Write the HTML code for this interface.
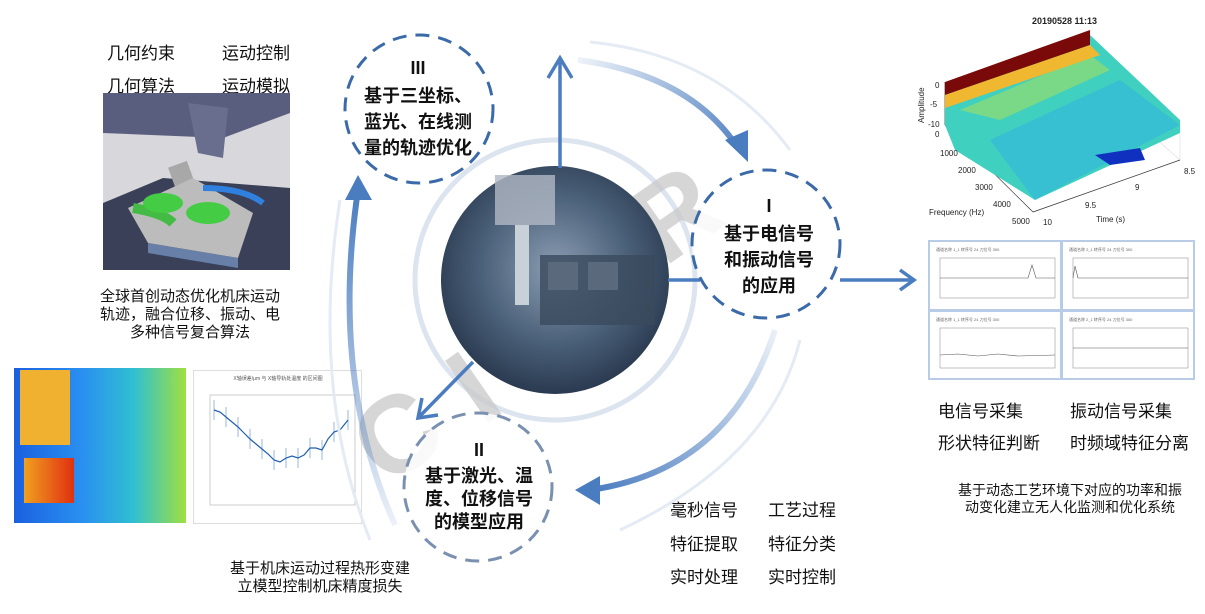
<!DOCTYPE html>
<html><head><meta charset="utf-8">
<style>
html,body{margin:0;padding:0;background:#fff;}
body{width:1205px;height:614px;position:relative;overflow:hidden;font-family:"Liberation Sans","Noto Sans CJK SC",sans-serif;color:#111;}
.t{position:absolute;white-space:nowrap;}
.c{text-align:center;}
</style></head><body>

<div class="t" style="left:107px;top:39px;font-size:17px;">几何约束</div>
<div class="t" style="left:222px;top:39px;font-size:17px;">运动控制</div>
<div class="t" style="left:107px;top:72px;font-size:17px;">几何算法</div>
<div class="t" style="left:222px;top:72px;font-size:17px;">运动模拟</div>
<svg style="position:absolute;left:103px;top:93px" width="187" height="177">
<rect width="187" height="177" fill="#d8d8dc"/>
<polygon points="0,0 187,0 187,20 120,45 0,40" fill="#5a5e7e"/>
<polygon points="0,110 60,85 187,95 187,177 0,177" fill="#3a4058"/>
<polygon points="85,10 125,15 120,65 95,60" fill="#6a6e8e"/>
<rect x="72" y="70" width="20" height="45" fill="#a8a8a8" transform="rotate(-20 82 92)"/>
<polygon points="25,115 90,85 150,120 135,165 45,150" fill="#bcbcbc"/>
<polygon points="45,150 135,165 135,175 45,160" fill="#6880a8"/>
<path d="M30,115 Q60,120 70,130" stroke="#44bb44" stroke-width="10" fill="none"/>
<ellipse cx="60" cy="110" rx="20" ry="10" fill="#44cc44"/>
<ellipse cx="105" cy="120" rx="22" ry="11" fill="#44cc44"/>
<path d="M100,95 Q140,95 160,110" stroke="#3080e0" stroke-width="6" fill="none"/>
</svg>
<div class="t c" style="left:80px;top:288px;width:220px;font-size:15px;line-height:18px;">全球首创动态优化机床运动<br>轨迹，融合位移、振动、电<br>多种信号复合算法</div>

<div style="position:absolute;left:14px;top:368px;width:172px;height:155px;background:linear-gradient(90deg,#1a60e0 0%,#2a90f0 40%,#30c0d0 70%,#a0e040 100%);"></div>
<div style="position:absolute;left:20px;top:370px;width:50px;height:75px;background:#f0b030;"></div>
<div style="position:absolute;left:24px;top:458px;width:50px;height:45px;background:linear-gradient(90deg,#f0a020,#e03010);"></div>
<div style="position:absolute;left:193px;top:370px;width:167px;height:152px;background:#fff;border:1px solid #ddd;"></div>
<svg style="position:absolute;left:193px;top:370px" width="167" height="152">
<rect x="17" y="25" width="145" height="110" fill="none" stroke="#ccc"/>
<g stroke="#9ab8e0" stroke-width="1">
<line x1="21" y1="30" x2="21" y2="50"/><line x1="33" y1="37" x2="33" y2="57"/><line x1="45" y1="47" x2="45" y2="67"/><line x1="57" y1="59" x2="57" y2="79"/><line x1="69" y1="69" x2="69" y2="89"/><line x1="81" y1="80" x2="81" y2="100"/><line x1="93" y1="78" x2="93" y2="98"/><line x1="105" y1="78" x2="105" y2="98"/><line x1="117" y1="68" x2="117" y2="88"/><line x1="129" y1="70" x2="129" y2="90"/><line x1="141" y1="52" x2="141" y2="72"/><line x1="155" y1="40" x2="155" y2="60"/></g>
<polyline points="21,40 27,42 33,47 39,52 45,57 51,63 57,69 63,74 69,79 75,84 81,90 87,92 93,88 99,86 105,88 111,85 117,78 123,78 129,80 135,69 141,62 147,60 155,50" fill="none" stroke="#2060b0" stroke-width="1.2"/>
<text x="85" y="10" font-size="5" text-anchor="middle" fill="#555">X轴误差/μm 与 X轴导轨处温度 的区间图</text>
</svg>
<div class="t c" style="left:210px;top:560px;width:220px;font-size:15px;line-height:18px;">基于机床运动过程热形变建<br>立模型控制机床精度损失</div>

<!-- 3D plot -->
<svg style="position:absolute;left:0;top:0" width="1205" height="614">
<g stroke="#ddd" stroke-width=".6" fill="none">
<line x1="1090" y1="30" x2="1090" y2="80"/><line x1="1090" y1="80" x2="1180" y2="160"/><line x1="1180" y1="160" x2="1180" y2="120"/>
</g>
<g stroke="#333" stroke-width=".7" fill="none">
<line x1="945" y1="125" x2="1033" y2="212"/><line x1="1033" y1="212" x2="1180" y2="160"/><line x1="945" y1="82" x2="945" y2="125"/>
</g>
<polygon points="945,88 1090,35 1180,120 1180,133 1035,200 955,150 945,125" fill="#40d0c0"/>
<polygon points="990,140 1120,80 1180,125 1035,200" fill="#30b0e0" opacity=".55"/>
<polygon points="960,110 1090,55 1110,70 1000,120" fill="#a0e060" opacity=".6"/>
<polygon points="945,82 1090,30 1090,45 945,95" fill="#7a0a0a"/>
<polygon points="945,95 1090,45 1100,55 945,108" fill="#f0b830"/>
<polygon points="1095,155 1140,148 1145,160 1110,165" fill="#1030c0"/>
<g font-family="Liberation Sans" font-size="8" fill="#222">
<text x="1032" y="24" font-size="9" font-weight="bold">20190528 11:13</text>
<text x="935" y="88">0</text><text x="930" y="107">-5</text><text x="928" y="127">-10</text>
<text x="935" y="137">0</text><text x="940" y="156">1000</text><text x="958" y="173">2000</text><text x="975" y="190">3000</text><text x="993" y="207">4000</text><text x="1012" y="224">5000</text>
<text x="1043" y="225">10</text><text x="1085" y="208">9.5</text><text x="1135" y="190">9</text><text x="1184" y="174">8.5</text>
<text x="929" y="215">Frequency (Hz)</text><text x="1096" y="222">Time (s)</text>
<text x="924" y="123" transform="rotate(-90 924 123)">Amplitude</text>
</g>
</svg>
<div style="position:absolute;left:928px;top:240px;width:267px;height:140px;background:#b8cce8;"></div>
<div style="position:absolute;left:930px;top:242px;width:130px;height:67px;background:#fff;"></div>
<div style="position:absolute;left:1063px;top:242px;width:130px;height:67px;background:#fff;"></div>
<div style="position:absolute;left:930px;top:312px;width:130px;height:66px;background:#fff;"></div>
<div style="position:absolute;left:1063px;top:312px;width:130px;height:66px;background:#fff;"></div>
<svg style="position:absolute;left:928px;top:240px" width="267" height="140">
<g fill="none" stroke="#999" stroke-width=".6">
<rect x="12" y="18" width="115" height="40"/><rect x="145" y="18" width="115" height="40"/>
<rect x="12" y="88" width="115" height="40"/><rect x="145" y="88" width="115" height="40"/>
<polyline points="12,38 100,38 104,25 108,38 127,38" stroke="#555"/>
<polyline points="145,38 147,26 150,38 260,38" stroke="#555"/>
<polyline points="12,115 30,114 50,116 70,114 90,116 127,115" stroke="#555"/>
<line x1="145" y1="108" x2="260" y2="108" stroke="#555"/>
</g>
<g font-size="4" fill="#666"><text x="8" y="11">通道名称 1_1 转序号 24 刀位号 300</text><text x="141" y="11">通道名称 2_1 转序号 24 刀位号 300</text><text x="8" y="81">通道名称 1_1 转序号 24 刀位号 300</text><text x="141" y="81">通道名称 2_1 转序号 24 刀位号 300</text></g>
</svg>
<div class="t" style="left:938px;top:397px;font-size:17px;">电信号采集</div>
<div class="t" style="left:1070px;top:397px;font-size:17px;">振动信号采集</div>
<div class="t" style="left:938px;top:429px;font-size:17px;">形状特征判断</div>
<div class="t" style="left:1070px;top:429px;font-size:17px;">时频域特征分离</div>
<div class="t c" style="left:940px;top:482px;width:260px;font-size:14px;line-height:17px;">基于动态工艺环境下对应的功率和振<br>动变化建立无人化监测和优化系统</div>

<div class="t" style="left:670px;top:496px;font-size:17px;">毫秒信号</div>
<div class="t" style="left:768px;top:496px;font-size:17px;">工艺过程</div>
<div class="t" style="left:670px;top:530px;font-size:17px;">特征提取</div>
<div class="t" style="left:768px;top:530px;font-size:17px;">特征分类</div>
<div class="t" style="left:670px;top:563px;font-size:17px;">实时处理</div>
<div class="t" style="left:768px;top:563px;font-size:17px;">实时控制</div>

<svg style="position:absolute;left:0;top:0" width="1205" height="614">
<defs>
<radialGradient id="ph" cx="50%" cy="45%" r="55%"><stop offset="0" stop-color="#8a9cb2"/><stop offset=".6" stop-color="#4a6078"/><stop offset="1" stop-color="#2a3a50"/></radialGradient>
<linearGradient id="g1" gradientUnits="userSpaceOnUse" x1="580" y1="60" x2="745" y2="160"><stop offset="0" stop-color="#4a7cc0" stop-opacity=".1"/><stop offset="1" stop-color="#4a7cc0"/></linearGradient>
<linearGradient id="g2" gradientUnits="userSpaceOnUse" x1="780" y1="330" x2="590" y2="490"><stop offset="0" stop-color="#4a7cc0" stop-opacity=".1"/><stop offset="1" stop-color="#4a7cc0"/></linearGradient>
<linearGradient id="g3" gradientUnits="userSpaceOnUse" x1="400" y1="525" x2="358" y2="190"><stop offset="0" stop-color="#4a7cc0" stop-opacity=".1"/><stop offset="1" stop-color="#4a7cc0"/></linearGradient>
</defs>
<circle cx="555" cy="280" r="140" fill="none" stroke="#dce4f0" stroke-width="5"/>
<path d="M590,42 Q720,55 790,150" fill="none" stroke="#e4ebf5" stroke-width="3"/>
<path d="M800,340 Q770,460 620,530" fill="none" stroke="#e4ebf5" stroke-width="3"/>
<path d="M370,540 Q310,390 340,200" fill="none" stroke="#e4ebf5" stroke-width="3"/>
<g fill="#c8c8c8" opacity=".75" font-family="Liberation Sans" font-weight="bold" font-size="110">
<text x="355" y="470" transform="rotate(-35 400 430)">C</text>
<text x="455" y="420" transform="rotate(-35 480 380)">I</text>
<text x="640" y="250" transform="rotate(-35 680 220)">R</text>
</g>
<circle cx="555" cy="280" r="114" fill="url(#ph)"/>
<rect x="540" y="255" width="115" height="70" fill="#3a4a5c" opacity=".8"/>
<rect x="548" y="262" width="30" height="28" fill="#5a6a7c"/><rect x="588" y="262" width="30" height="28" fill="#5a6a7c"/>
<rect x="495" y="175" width="60" height="50" fill="#b0b8c4" opacity=".8"/>
<rect x="515" y="225" width="14" height="80" fill="#c8d0d8"/>
<path d="M578,60 Q690,75 738,148" fill="none" stroke="url(#g1)" stroke-width="6"/>
<polygon points="725,140 748,162 748,130" fill="#4a7cc0"/>
<path d="M775,330 Q730,470 590,490" fill="none" stroke="url(#g2)" stroke-width="6"/>
<polygon points="575,490 600,476 600,505" fill="#4a7cc0"/>
<path d="M395,525 Q330,380 358,190" fill="none" stroke="url(#g3)" stroke-width="6"/>
<polygon points="358,175 345,200 372,200" fill="#4a7cc0"/>
<line x1="560" y1="168" x2="560" y2="62" stroke="#4a7cc0" stroke-width="3.5"/>
<polyline points="548,78 560,58 572,78" fill="none" stroke="#4a7cc0" stroke-width="3.5"/>
<line x1="668" y1="280" x2="700" y2="280" stroke="#4a7cc0" stroke-width="3.5"/>
<line x1="840" y1="280" x2="912" y2="280" stroke="#4a7cc0" stroke-width="3.5"/>
<polyline points="900,270 914,280 900,290" fill="none" stroke="#4a7cc0" stroke-width="3.5"/>
<line x1="473" y1="362" x2="420" y2="416" stroke="#4a7cc0" stroke-width="3.5"/>
<polyline points="422,398 418,418 438,415" fill="none" stroke="#4a7cc0" stroke-width="3.5"/>
<circle cx="419" cy="109" r="74" fill="#fff" fill-opacity=".85" stroke="#3a6aa8" stroke-width="3" stroke-dasharray="14,9"/>
<circle cx="766" cy="244" r="74" fill="#fff" fill-opacity=".85" stroke="#3a6aa8" stroke-width="3" stroke-dasharray="14,9"/>
<circle cx="478" cy="487" r="74" fill="#fff" fill-opacity=".85" stroke="#7a90b0" stroke-width="3" stroke-dasharray="14,9"/>
<g font-family="Liberation Sans,Noto Sans CJK SC,sans-serif" font-weight="bold" font-size="18" text-anchor="middle" fill="#111">
<text x="418" y="74">III</text>
<text x="418" y="102">基于三坐标、</text>
<text x="418" y="128">蓝光、在线测</text>
<text x="418" y="154">量的轨迹优化</text>
<text x="769" y="212">I</text>
<text x="769" y="240">基于电信号</text>
<text x="769" y="266">和振动信号</text>
<text x="769" y="292">的应用</text>
<text x="479" y="456">II</text>
<text x="479" y="482">基于激光、温</text>
<text x="479" y="505">度、位移信号</text>
<text x="479" y="528">的模型应用</text>
</g>
</svg>
</body></html>
